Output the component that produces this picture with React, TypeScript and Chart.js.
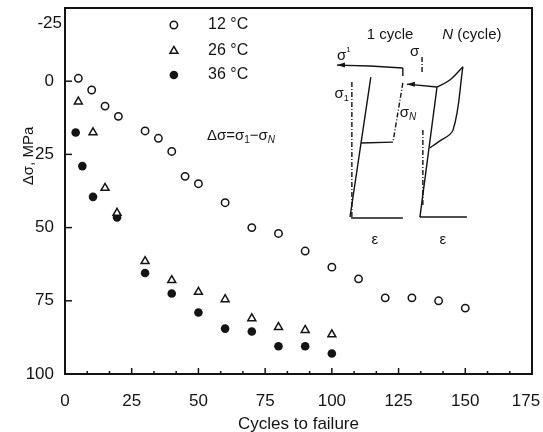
import React, { useEffect, useRef } from 'react';
import { Chart, registerables } from 'chart.js';

Chart.register(...registerables);

// ---- data ----
const cycles12 = [5, 10, 15, 20, 30, 35, 40, 45, 50, 60, 70, 80, 90, 100, 110, 120, 130, 140, 150];
const delta12 = [-1, 3, 8.5, 12, 17, 19.5, 24, 32.5, 35, 41.5, 50, 52, 58, 63.5, 67.5, 74, 74, 75, 77.5];
const cycles26 = [5, 10.5, 15, 19.5, 30, 40, 50, 60, 70, 80, 90, 100];
const delta26 = [7, 17.5, 36.5, 45, 61.5, 68, 72, 74.5, 81, 84, 85, 86.5];
const cycles36 = [4, 6.5, 10.5, 19.5, 30, 40, 50, 60, 70, 80, 90, 100];
const delta36 = [17.5, 29, 39.5, 46.5, 65.5, 72.5, 79, 84.5, 85.5, 90.5, 90.5, 93];
const seriesLabels = ['12 °C', '26 °C', '36 °C'];
const xTicks = [0, 25, 50, 75, 100, 125, 150, 175];
const yTicks = [-25, 0, 25, 50, 75, 100];

// ---- inset schematic (stress–strain loops), in the chart's data units ----
const loop1Top = [[101.9, -5.5], [114.3, -5.2], [126.6, -4.5]];
const loop1Stub = [[126.6, -4.5], [126.6, -1.8]];
const loop1Unload = [[126.6, 0.6], [122.9, 20.8]];
const loop1Bottom = [[122.9, 20.8], [110.9, 21.1]];
const loop1Load = [[106.8, 46.4], [114.6, -1.4]];
const loop1Guide = [[107.5, 0.3], [107.5, 46.4]];
const loop1Strain = [[107.2, 46.7], [126.6, 46.7]];
const loopNGuideTop = [[133.8, -8.3], [133.8, -2.8]];
const loopNArrow = [[128.1, 1.0], [139.4, 2.0]];
const loopNHarden = [[139.4, 2.0], [144.2, -0.4], [149.1, -4.9]];
const loopNUnload = [[149.1, -4.9], [145.4, 16.7], [139.8, 20.8], [136.6, 22.8]];
const loopNLoad = [[133.0, 46.4], [139.4, 2.0]];
const loopNGuide = [[134.1, 16.7], [134.1, 43.0]];
const loopNStrain = [[133.0, 46.4], [150.6, 46.4]];
const arrowTips = [[101.9, -5.5], [128.1, 1.0]];

const FONT = '"Liberation Sans", Arial, Helvetica, sans-serif';
const INK = '#141414';
const TICK_SIZE = 17;

type Run = { t: string; size: number; italic?: boolean; dy?: number };

function drawRuns(ctx: CanvasRenderingContext2D, x: number, y: number, runs: Run[], align: 'left' | 'center' | 'right') {
  const widths = runs.map((r) => {
    ctx.font = `${r.italic ? 'italic ' : ''}${r.size}px ${FONT}`;
    return ctx.measureText(r.t).width;
  });
  const total = widths.reduce((a, b) => a + b, 0);
  let cx = align === 'center' ? x - total / 2 : align === 'right' ? x - total : x;
  ctx.textAlign = 'left';
  ctx.textBaseline = 'middle';
  runs.forEach((r, i) => {
    ctx.font = `${r.italic ? 'italic ' : ''}${r.size}px ${FONT}`;
    ctx.fillText(r.t, cx, y + (r.dy || 0));
    cx += widths[i];
  });
}

const decorPlugin = {
  id: 'decor',
  afterDatasetsDraw(chart: any) {
    const { ctx, chartArea: a, scales } = chart;
    const xs = scales.x;
    const ys = scales.y;
    const px = (v: number) => xs.getPixelForValue(v);
    const py = (v: number) => ys.getPixelForValue(v);
    ctx.save();
    ctx.strokeStyle = INK;
    ctx.fillStyle = INK;

    // frame
    ctx.lineWidth = 2;
    ctx.strokeRect(a.left, a.top, a.right - a.left, a.bottom - a.top);

    // x ticks (major + 2 minor per interval), pointing inward
    ctx.lineWidth = 1.5;
    for (let i = 0; i <= 21; i++) {
      const v = (i * 25) / 3;
      const len = i % 3 === 0 ? 6 : 3;
      const xp = px(v);
      ctx.beginPath();
      ctx.moveTo(xp, a.bottom);
      ctx.lineTo(xp, a.bottom - len);
      ctx.stroke();
    }
    // y ticks
    yTicks.forEach((v) => {
      const yp = py(v);
      ctx.beginPath();
      ctx.moveTo(a.left, yp);
      ctx.lineTo(a.left + 7, yp);
      ctx.stroke();
    });

    // edge labels that sit slightly inside in the reference
    drawRuns(ctx, a.left - 3, a.top + 15, [{ t: String(yTicks[0]), size: TICK_SIZE }], 'right');
    const lastX = xTicks[xTicks.length - 1];
    drawRuns(ctx, px(lastX) - 6, a.bottom + 27.3, [{ t: String(lastX), size: TICK_SIZE }], 'center');

    // axis titles
    ctx.font = `17px ${FONT}`;
    ctx.textAlign = 'center';
    ctx.textBaseline = 'middle';
    ctx.fillText('Cycles to failure', (a.left + a.right) / 2, 424);
    ctx.save();
    ctx.translate(29, 156);
    ctx.rotate(-Math.PI / 2);
    ctx.font = `15px ${FONT}`;
    ctx.fillText('Δσ, MPa', 0, 0);
    ctx.restore();

    // legend inside plot
    const legX = px(40.8);
    const legTextX = px(53.6);
    const legY = [-19.2, -10.3, -2.1];
    legY.forEach((lv, i) => {
      const yy = py(lv);
      ctx.lineWidth = 1.5;
      ctx.beginPath();
      if (i === 1) {
        const r = 4.6;
        let rad = 0;
        ctx.moveTo(legX + Math.sin(rad) * r, yy - Math.cos(rad) * r);
        rad += (2 * Math.PI) / 3;
        ctx.lineTo(legX + Math.sin(rad) * r, yy - Math.cos(rad) * r);
        rad += (2 * Math.PI) / 3;
        ctx.lineTo(legX + Math.sin(rad) * r, yy - Math.cos(rad) * r);
        ctx.closePath();
        ctx.fillStyle = '#fff';
        ctx.fill();
        ctx.stroke();
      } else {
        ctx.arc(legX, yy, i === 0 ? 3.7 : 4.3, 0, Math.PI * 2);
        ctx.fillStyle = i === 0 ? '#fff' : INK;
        ctx.fill();
        if (i === 0) ctx.stroke();
      }
      ctx.fillStyle = INK;
      drawRuns(ctx, legTextX, yy, [{ t: seriesLabels[i], size: 16 }], 'left');
    });

    // formula
    drawRuns(ctx, px(53.2), py(18.7), [
      { t: 'Δσ=σ', size: 15 },
      { t: '1', size: 10, dy: 4 },
      { t: '−σ', size: 15 },
      { t: 'N', size: 10, italic: true, dy: 4 },
    ], 'left');

    // inset labels
    drawRuns(ctx, px(121.8), py(-15.8), [{ t: '1 cycle', size: 15 }], 'center');
    drawRuns(ctx, px(152.5), py(-15.8), [
      { t: 'N', size: 15, italic: true },
      { t: ' (cycle)', size: 15 },
    ], 'center');
    drawRuns(ctx, px(101.9), py(-8.6), [{ t: 'σ', size: 15 }, { t: '1', size: 8, dy: -6 }], 'left');
    drawRuns(ctx, px(101.0), py(4.4), [{ t: 'σ', size: 15 }, { t: '1', size: 9, dy: 4 }], 'left');
    drawRuns(ctx, px(129.3), py(-10), [{ t: 'σ', size: 15 }], 'left');
    drawRuns(ctx, px(125.4), py(10.9), [{ t: 'σ', size: 15 }, { t: 'N', size: 10, italic: true, dy: 4 }], 'left');
    drawRuns(ctx, px(116.1), py(54.2), [{ t: 'ε', size: 15 }], 'center');
    drawRuns(ctx, px(141.6), py(54.2), [{ t: 'ε', size: 15 }], 'center');

    // arrow heads
    arrowTips.forEach(([xv, yv]) => {
      const xp = px(xv);
      const yp = py(yv);
      ctx.beginPath();
      ctx.moveTo(xp, yp);
      ctx.lineTo(xp + 8, yp - 2.5);
      ctx.lineTo(xp + 8, yp + 2.5);
      ctx.closePath();
      ctx.fill();
    });
    ctx.restore();
  },
};

const toPts = (xs: number[], ys: number[]) => xs.map((x, i) => ({ x, y: ys[i] }));
const pairPts = (p: number[][]) => p.map(([x, y]) => ({ x, y }));

function insetLine(path: number[][], dashed: boolean, curved = false) {
  return {
    label: '',
    data: pairPts(path),
    showLine: true,
    pointRadius: 0,
    borderColor: INK,
    borderWidth: 1.4,
    borderDash: dashed ? [5, 2, 1, 2] : [],
    tension: curved ? 0.35 : 0,
    fill: false,
  };
}

export default function App() {
  const ref = useRef<HTMLCanvasElement | null>(null);
  useEffect(() => {
    if (!ref.current) return;
    const chart = new Chart(ref.current, {
      type: 'scatter',
      data: {
        datasets: [
          {
            label: seriesLabels[0],
            data: toPts(cycles12, delta12),
            pointStyle: 'circle',
            pointRadius: 3.7,
            pointBorderWidth: 1.5,
            pointBackgroundColor: '#fff',
            pointBorderColor: INK,
          },
          {
            label: seriesLabels[1],
            data: toPts(cycles26, delta26),
            pointStyle: 'triangle',
            pointRadius: 4.6,
            pointBorderWidth: 1.5,
            pointBackgroundColor: '#fff',
            pointBorderColor: INK,
          },
          {
            label: seriesLabels[2],
            data: toPts(cycles36, delta36),
            pointStyle: 'circle',
            pointRadius: 4.3,
            pointBorderWidth: 0,
            pointBackgroundColor: INK,
            pointBorderColor: INK,
          },
          insetLine(loop1Top, false),
          insetLine(loop1Stub, false),
          insetLine(loop1Unload, true),
          insetLine(loop1Bottom, false),
          insetLine(loop1Load, false),
          insetLine(loop1Guide, true),
          insetLine(loop1Strain, false),
          insetLine(loopNGuideTop, true),
          insetLine(loopNArrow, false),
          insetLine(loopNHarden, false, true),
          insetLine(loopNUnload, false, true),
          insetLine(loopNLoad, false),
          insetLine(loopNGuide, true),
          insetLine(loopNStrain, false),
        ] as any,
      },
      options: {
        animation: false,
        responsive: false,
        events: [],
        layout: { padding: { top: 8, right: 11, left: 0, bottom: 0 } },
        plugins: { legend: { display: false }, tooltip: { enabled: false }, title: { display: false } },
        scales: {
          x: {
            type: 'linear',
            min: 0,
            max: 175,
            grid: { display: false },
            border: { display: false },
            afterBuildTicks: (s: any) => {
              s.ticks = xTicks.map((v) => ({ value: v }));
            },
            afterFit: (s: any) => {
              s.height = 58;
              s.paddingLeft = 0;
              s.paddingRight = 0;
            },
            ticks: {
              color: INK,
              padding: 9,
              maxRotation: 0,
              autoSkip: false,
              font: { family: FONT, size: TICK_SIZE },
              callback: (v: any) => (Number(v) === xTicks[xTicks.length - 1] ? '' : String(v)),
            },
          },
          y: {
            type: 'linear',
            min: -25,
            max: 100,
            reverse: true,
            grid: { display: false },
            border: { display: false },
            afterBuildTicks: (s: any) => {
              s.ticks = yTicks.map((v) => ({ value: v }));
            },
            afterFit: (s: any) => {
              s.width = 65;
              s.paddingTop = 0;
              s.paddingBottom = 0;
            },
            ticks: {
              color: INK,
              padding: 3,
              autoSkip: false,
              font: { family: FONT, size: TICK_SIZE },
              callback: (v: any) => (Number(v) === yTicks[0] ? '' : String(v)),
            },
          },
        },
      },
      plugins: [decorPlugin],
    } as any);
    return () => chart.destroy();
  }, []);

  return (
    <div style={{ position: 'fixed', left: 0, top: 0, width: 543, height: 432, background: '#fff' }}>
      <canvas ref={ref} width={543} height={432} style={{ display: 'block', width: 543, height: 432 }} />
    </div>
  );
}
